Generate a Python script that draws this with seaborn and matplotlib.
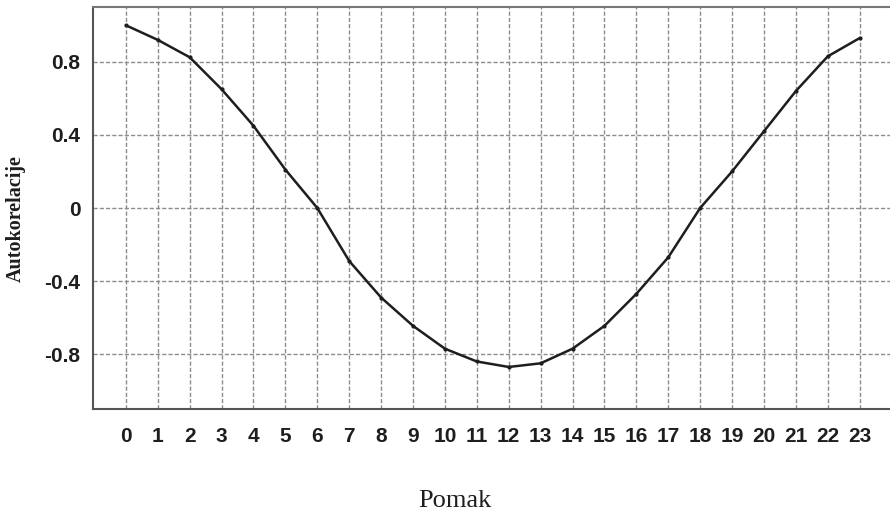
import numpy as np
import pandas as pd
import matplotlib
matplotlib.use("Agg")
import matplotlib.pyplot as plt
import seaborn as sns

# lag values and autocorrelation
pomak = list(range(24))
autokorelacije = [1.0, 0.92, 0.825, 0.65, 0.45, 0.21, 0.0, -0.29, -0.49, -0.645,
                  -0.77, -0.84, -0.87, -0.85, -0.77, -0.645, -0.47, -0.27, 0.0,
                  0.20, 0.42, 0.64, 0.83, 0.93]
y_ticks = [0.8, 0.4, 0, -0.4, -0.8]
y_tick_labels = ["0.8", "0.4", "0", "-0.4", "-0.8"]

df = pd.DataFrame({"Pomak": pomak, "Autokorelacije": autokorelacije})

sns.set_style("white")
fig = plt.figure(figsize=(8.9, 5.19), dpi=100)
ax = fig.add_axes([93 / 890, 1 - 409 / 519, 797 / 890, 402 / 519])

sns.lineplot(data=df, x="Pomak", y="Autokorelacije", ax=ax, color="#1e1e1e",
             linewidth=1.8, marker="o", markersize=3, markeredgewidth=0)

ax.set_xlim(-1.03, 23.95)
ax.set_ylim(-1.1, 1.1)
ax.set_xticks(pomak)
ax.set_yticks(y_ticks)
ax.set_yticklabels(y_tick_labels)

ax.grid(True, color="#8c8c8c", linestyle=(0, (3, 1.5)), linewidth=1.0)
ax.set_axisbelow(True)

for lab in ax.get_xticklabels() + ax.get_yticklabels():
    lab.set_fontfamily("Liberation Sans")
    lab.set_fontweight("bold")
    lab.set_fontsize(15)
    lab.set_color("#1e1e1e")

ax.tick_params(axis="x", direction="in", length=3, pad=13, color="#666666")
ax.tick_params(axis="y", length=0, pad=9)

ax.spines["right"].set_visible(False)
ax.spines["left"].set_color("#555555")
ax.spines["bottom"].set_color("#555555")
ax.spines["top"].set_color("#777777")
for s in ["left", "bottom", "top"]:
    ax.spines[s].set_linewidth(1.5)

ax.set_xlabel("Pomak", fontfamily="Liberation Serif", fontsize=19, color="#1e1e1e")
ax.set_ylabel("Autokorelacije", fontfamily="Liberation Serif", fontweight="bold",
              fontsize=14.5, color="#1e1e1e")
ax.xaxis.set_label_coords((455 - 93) / 797, -(490 - 409) / 402)
ax.yaxis.set_label_coords(-(93 - 26) / 797, (409 - 219) / 402)

plt.savefig("out.png", dpi=100)
